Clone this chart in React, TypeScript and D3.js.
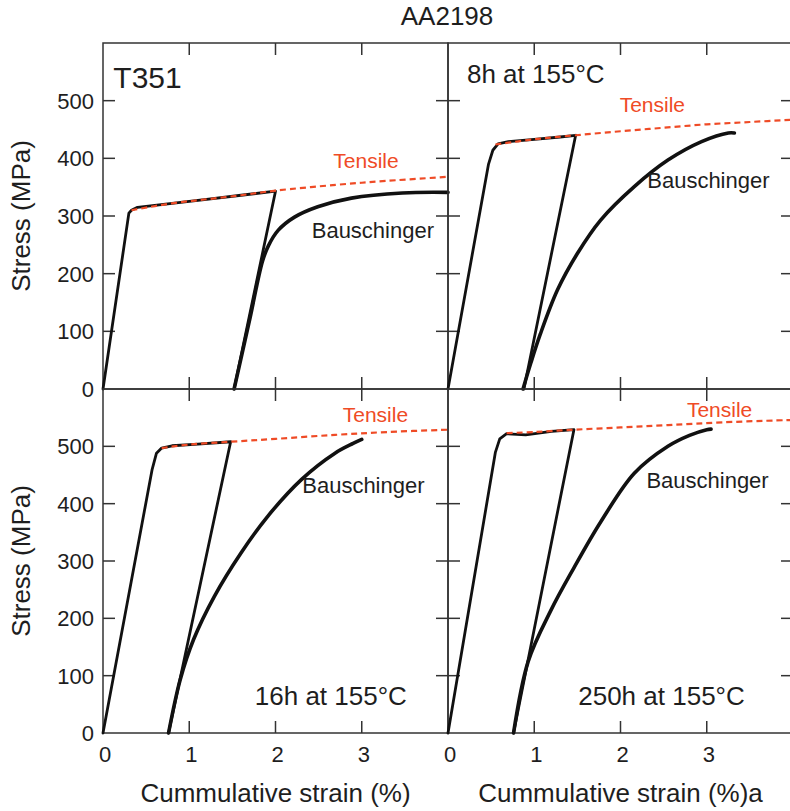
import React from "react";
import * as d3 from "d3";

type P = [number, number];

// ---- data (strain %, stress MPa) ----
const xTicks = [1, 2, 3];
const xTickLabels = [0, 1, 2, 3];
const yTicks = [100, 200, 300, 400, 500];
const yTickLabels = [0, 100, 200, 300, 400, 500];

const t351Load: P[] = [[0, 0], [0.3, 305], [0.33, 310], [0.4, 315], [0.8, 322], [1.2, 329], [1.6, 336], [2.0, 343], [1.52, 0]];
const t351Bausch: P[] = [[1.52, 0], [1.7, 120], [1.85, 222], [1.92, 249], [2.03, 275], [2.22, 298], [2.49, 316], [2.88, 331], [3.47, 340], [4.0, 341]];
const t351Tensile: P[] = [[0.33, 310], [0.8, 322], [1.2, 329], [1.6, 336], [2.0, 344], [2.7, 354], [3.3, 361], [4.0, 368]];

const h8Load: P[] = [[0, 0], [0.47, 390], [0.52, 414], [0.58, 425], [0.7, 429], [1.0, 433], [1.3, 437], [1.48, 440], [0.88, 0]];
const h8Bausch: P[] = [[0.87, 0], [0.96, 45], [1.07, 95], [1.27, 172], [1.5, 235], [1.77, 293], [2.16, 351], [2.55, 397], [2.94, 429], [3.25, 444], [3.32, 444]];
const h8Tensile: P[] = [[0.55, 424], [1.0, 433], [1.48, 440], [2.0, 447], [2.5, 453], [3.0, 459], [3.5, 463], [4.0, 467]];

const h16Load: P[] = [[0, 0], [0.57, 460], [0.62, 488], [0.68, 497], [0.8, 501], [1.1, 504], [1.48, 508], [0.76, 0]];
const h16Bausch: P[] = [[0.76, 0], [0.895, 93], [1.05, 163], [1.29, 238], [1.6, 314], [1.91, 378], [2.3, 442], [2.69, 488], [2.9, 505], [3.0, 512]];
const h16Tensile: P[] = [[0.68, 497], [1.0, 503], [1.48, 508], [2.0, 513], [2.69, 520], [3.3, 525], [4.0, 529]];

const h250Load: P[] = [[0, 0], [0.55, 490], [0.6, 513], [0.68, 522], [0.9, 520], [1.2, 526], [1.46, 529], [0.76, 0]];
const h250Bausch: P[] = [[0.76, 0], [0.93, 125], [1.19, 213], [1.46, 288], [1.77, 368], [2.16, 453], [2.55, 500], [2.8, 519], [3.0, 529], [3.05, 530]];
const h250Tensile: P[] = [[0.68, 523], [1.0, 525], [1.46, 529], [2.0, 533], [2.55, 537], [3.2, 542], [4.0, 546]];

const panelTitles = ["T351", "8h at 155°C", "16h at 155°C", "250h at 155°C"];
// label anchors in data coordinates [strain, stress]
const titlePos: P[] = [[0.12, 522], [0.22, 531], [1.76, 49], [1.51, 49]];
const tensilePos: P[] = [[2.67, 383], [1.99, 480], [2.78, 542], [2.77, 551]];
const bauschPos: P[] = [[2.42, 262], [2.31, 349], [2.31, 419], [2.3, 427]];

const loads = [t351Load, h8Load, h16Load, h250Load];
const bauschs = [t351Bausch, h8Bausch, h16Bausch, h250Bausch];
const tensiles = [t351Tensile, h8Tensile, h16Tensile, h250Tensile];

const FONT = "'Liberation Sans', Arial, Helvetica, sans-serif";
const RED = "#ef4b26";
const INK = "#1e1e1e";
const FRAME = "#333";

export default function App() {
  const W = 790, H = 811;
  const xs = [103, 448];
  const pw = 345;
  const ys = [[43, 389], [389, 733]];

  const panels = [0, 1, 2, 3].map((i) => {
    const col = i % 2, row = Math.floor(i / 2);
    const x = d3.scaleLinear().domain([0, 4]).range([xs[col], xs[col] + pw]);
    const y = d3.scaleLinear().domain([0, 600]).range([ys[row][1], ys[row][0]]);
    return { i, col, row, x, y };
  });

  return (
    <div style={{ position: "absolute", left: 0, top: 0 }}>
      <svg width={W} height={H} style={{ display: "block", fontFamily: FONT }}>
        <rect width={W} height={H} fill="#fff" />
        <text x={447} y={25} textAnchor="middle" fontSize={26} fill={INK}>AA2198</text>

        {panels.map(({ i, col, row, x, y }) => {
          const x0 = x.range()[0], x1 = x.range()[1];
          const yb = y.range()[0], yt = y.range()[1];
          const lineLin = d3.line<P>().x((d) => x(d[0])).y((d) => y(d[1]));
          const lineSmooth = d3.line<P>().x((d) => x(d[0])).y((d) => y(d[1])).curve(d3.curveCatmullRom.alpha(0.5));
          const tl = 12;
          return (
            <g key={i}>
              {/* frame */}
              <rect x={x0} y={yt} width={x1 - x0} height={yb - yt} fill="none" stroke={FRAME} strokeWidth={1.5} />
              {yTicks.map((t) => (
                <g key={"y" + t}>
                  <line x1={x0} x2={x0 + tl} y1={y(t)} y2={y(t)} stroke={FRAME} strokeWidth={1.5} />
                  <line x1={x1 - tl} x2={x1} y1={y(t)} y2={y(t)} stroke={FRAME} strokeWidth={1.5} />
                </g>
              ))}
              {xTicks.map((t) => (
                <g key={"x" + t}>
                  <line x1={x(t)} x2={x(t)} y1={yb} y2={yb - tl} stroke={FRAME} strokeWidth={1.5} />
                  <line x1={x(t)} x2={x(t)} y1={yt} y2={yt + tl} stroke={FRAME} strokeWidth={1.5} />
                </g>
              ))}
              {col === 0 &&
                yTickLabels.map((t) => (
                  <text key={"yl" + t} x={x0 - 9} y={y(t) + 8} textAnchor="end" fontSize={22} fill={INK}>{t}</text>
                ))}
              {row === 1 &&
                xTickLabels.map((t) => (
                  <text key={"xl" + t} x={x(t) + 2} y={762} textAnchor="middle" fontSize={22} fill={INK}>{t}</text>
                ))}
              {col === 0 && (
                <text transform={`translate(30,${(yt + yb) / 2}) rotate(-90)`} textAnchor="middle" fontSize={26} fill={INK}>Stress (MPa)</text>
              )}
              {row === 1 && (
                <text x={(x0 + x1) / 2} y={802} textAnchor="middle" fontSize={26} fill={INK}>
                  {col === 0 ? "Cummulative strain (%)" : "Cummulative strain (%)a"}
                </text>
              )}

              {/* curves */}
              <path d={lineLin(loads[i]) || ""} fill="none" stroke="#111" strokeWidth={2.8} strokeLinejoin="round" strokeLinecap="round" />
              <path d={lineSmooth(bauschs[i]) || ""} fill="none" stroke="#111" strokeWidth={3.6} strokeLinejoin="round" strokeLinecap="round" />
              <path d={lineSmooth(tensiles[i]) || ""} fill="none" stroke={RED} strokeWidth={2.2} strokeDasharray="6,4" />

              {/* annotations */}
              <text x={x(titlePos[i][0])} y={y(titlePos[i][1])} fontSize={i === 0 ? 30 : 26} fill={INK}>{panelTitles[i]}</text>
              <text x={x(tensilePos[i][0])} y={y(tensilePos[i][1])} fontSize={21} fill={RED}>Tensile</text>
              <text x={x(bauschPos[i][0])} y={y(bauschPos[i][1])} fontSize={22} fill={INK}>Bauschinger</text>
            </g>
          );
        })}
      </svg>
    </div>
  );
}
